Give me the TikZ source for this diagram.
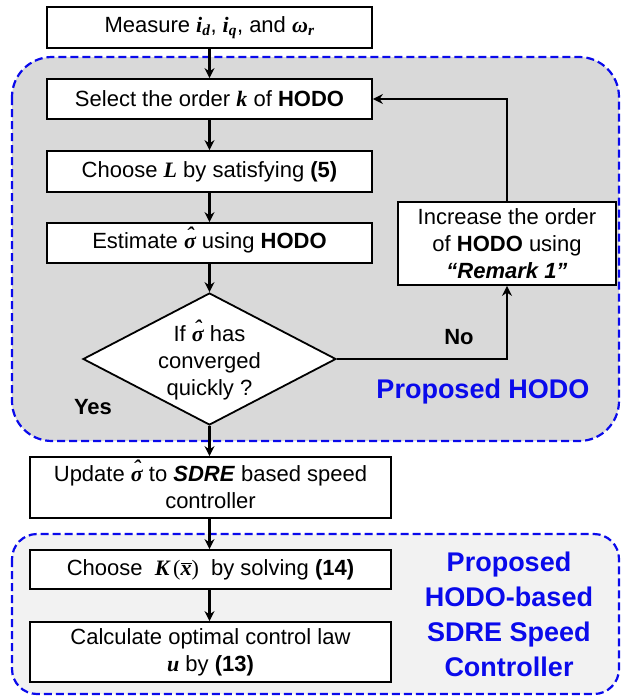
\documentclass[tikz,border=0pt]{standalone}
\usepackage{fontspec}
\setmainfont{Liberation Sans}
\newfontfamily\serifmath{Liberation Serif}
\usetikzlibrary{shapes.geometric,arrows.meta}
\newcommand\mv[1]{{\serifmath\bfseries\itshape #1}}
\newcommand\sighat{\mbox{\ooalign{\mv{σ}\cr\hidewidth\raisebox{0.28em}{\mv{ˆ}}\hidewidth\cr}}}
\definecolor{hblue}{RGB}{10,10,235}
\begin{document}
\begin{tikzpicture}[x=1pt,y=-1pt,
  box/.style={draw, line width=1.8pt, fill=white, inner sep=2pt, align=center, font=\fontsize{22}{27}\selectfont},
  dia/.style={draw, diamond, line width=1.8pt, fill=white, inner sep=0pt, minimum width=253pt, minimum height=132pt},
  txt/.style={align=center, inner sep=0pt, font=\fontsize{22}{27}\selectfont},
  lab/.style={inner sep=0pt, font=\fontsize{22}{27}\selectfont\bfseries},
  bluelab/.style={inner sep=0pt, align=center, text=hblue, font=\fontsize{27}{35}\selectfont\bfseries},
  region/.style={draw=hblue, line width=2.2pt, dash pattern=on 8pt off 4pt},
  arr/.style={line width=2.4pt, -{Stealth[length=10pt,width=10pt]}}]
\useasboundingbox (0,0) rectangle (621,696);
\draw[region, fill=black!15, rounded corners=40pt] (12,57) rectangle (619,441);
\draw[region, fill=black!5, rounded corners=25pt] (12,534) rectangle (619,694);

\node[box, minimum width=325pt, minimum height=41pt] (meas) at (209.5,27.5) {Measure \mv{i}\textsubscript{\mv{d}}, \mv{i}\textsubscript{\mv{q}}, and \mv{ω}\textsubscript{\mv{r}}};
\node[box, minimum width=325pt, minimum height=40pt] (sel) at (209.5,99) {Select the order \mv{k} of \textbf{HODO}};
\node[box, minimum width=325pt, minimum height=41pt] (chL) at (209.5,171.5) {Choose \mv{L} by satisfying \textbf{(5)}};
\node[box, minimum width=325pt, minimum height=40pt] (est) at (209.5,243) {Estimate \sighat\ using \textbf{HODO}};
\node[dia] (dec) at (209.5,359) {};
\node[txt] (dect) at (209.5,363) {If \sighat\ has\\converged\\quickly ?};
\node[box, minimum width=218pt, minimum height=83pt] (inc) at (507,243.5) {Increase the order\\of \textbf{HODO} using\\\textbf{\textit{“Remark 1”}}};
\node[box, minimum width=361pt, minimum height=61pt] (upd) at (210.5,487.5) {Update \sighat\ to \textbf{\textit{SDRE}} based speed\\controller};
\node[box, minimum width=361pt, minimum height=39pt] (chK) at (210.5,569.5) {Choose\ \ \mv{K}\,{\serifmath(}$\overline{\mbox{\mv{x}}}${\serifmath)}\ \ by solving \textbf{(14)}};
\node[box, minimum width=361pt, minimum height=60pt] (calc) at (210.5,652) {Calculate optimal control law\\\mv{u} by \textbf{(13)}};

\node[lab] (no) at (459,337) {No};
\node[lab] (yes) at (93,407) {Yes};
\node[bluelab] (ph) at (483,392) {Proposed HODO};
\node[bluelab] (pc) at (509,614) {Proposed\\HODO-based\\SDRE Speed\\Controller};

\draw[arr] (meas) -- (sel);
\draw[arr] (sel) -- (chL);
\draw[arr] (chL) -- (est);
\draw[arr] (est) -- (dec);
\draw[arr] (dec.south) -- (dec.south |- upd.north);
\draw[arr] (dec.south |- upd.south) -- (dec.south |- chK.north);
\draw[arr] (dec.south |- chK.south) -- (dec.south |- calc.north);
\draw[arr] (dec.east) -| (inc.south);
\draw[arr] (inc.north) |- (sel.east);
\end{tikzpicture}
\end{document}
